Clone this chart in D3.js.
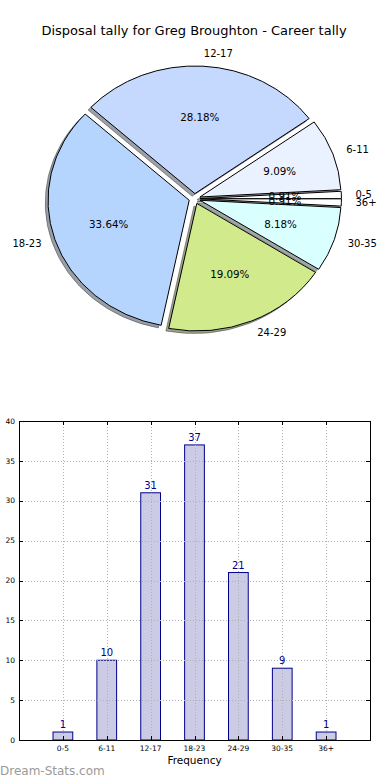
<!DOCTYPE html>
<html><head><meta charset="utf-8">
<script src="https://cdn.jsdelivr.net/npm/d3@7"></script>
<style>html,body{margin:0;padding:0;background:#fff;}svg{display:block;font-family:"DejaVu Sans",sans-serif;}</style>
</head><body>
<script>
const categories = ["0-5","6-11","12-17","18-23","24-29","30-35","36+"];
const counts = [1,10,31,37,21,9,1];
const sliceColors = ["#ffffff","#eaf1ff","#c5d9ff","#b5d5ff","#d0ea8c","#d9ffff","#ffffff"];
const yTicks = [0,5,10,15,20,25,30,35,40];
const title = "Disposal tally for Greg Broughton - Career tally";

const W = 390, H = 780;
const svg = d3.select("body").append("svg").attr("width", W).attr("height", H);

svg.append("text").attr("x", 194).attr("y", 35).attr("text-anchor","middle")
  .attr("font-size", 13).attr("fill","#000").text(title);

// ---------- Pie (elliptical, exploded, shadowed) ----------
const cx = 194.6, cy = 198.7, rx = 141.2, ry = 127.6, explode = 0.04;
const total = d3.sum(counts);
const pie = d3.pie().sort(null).startAngle(Math.PI/2).endAngle(Math.PI/2 - 2*Math.PI);
const arcs = pie(counts);
const arcGen = d3.arc().innerRadius(0).outerRadius(1);

function mid(a){ return (a.startAngle + a.endAngle)/2; }
function off(a, k){ const m = mid(a); return [k*rx*Math.sin(m), -k*ry*Math.cos(m)]; }

const gPie = svg.append("g");
// shadows
arcs.forEach((a,i)=>{
  const o = off(a, explode);
  const c = d3.rgb(sliceColors[i]);
  const sc = d3.rgb(c.r*0.3, c.g*0.3, c.b*0.3);
  gPie.append("path")
    .attr("d", arcGen({startAngle:a.startAngle, endAngle:a.endAngle}))
    .attr("transform", `translate(${cx+o[0]-0.02*rx},${cy+o[1]+0.02*ry}) scale(${rx},${ry})`)
    .attr("fill", sc).attr("fill-opacity",0.5)
    .attr("stroke", sc).attr("stroke-opacity",0.5).attr("stroke-width",1)
    .attr("vector-effect","non-scaling-stroke");
});
arcs.forEach((a,i)=>{
  const o = off(a, explode);
  gPie.append("path")
    .attr("d", arcGen({startAngle:a.startAngle, endAngle:a.endAngle}))
    .attr("transform", `translate(${cx+o[0]},${cy+o[1]}) scale(${rx},${ry})`)
    .attr("fill", sliceColors[i])
    .attr("stroke", "#000").attr("stroke-width",1)
    .attr("vector-effect","non-scaling-stroke");
});
// labels
arcs.forEach((a,i)=>{
  const m = mid(a);
  const sx = Math.sin(m), sy = -Math.cos(m);
  const lx = cx + (explode+1.1)*rx*sx, ly = cy + (explode+1.1)*ry*sy;
  gPie.append("text").attr("x", lx).attr("y", ly).attr("dy","0.35em")
    .attr("text-anchor", sx > 0 ? "start" : "end")
    .attr("font-size", 10).attr("fill","#000").text(categories[i]);
  const px = cx + (explode+0.6)*rx*sx, py = cy + (explode+0.6)*ry*sy;
  gPie.append("text").attr("x", px).attr("y", py).attr("dy","0.35em")
    .attr("text-anchor","middle").attr("font-size", 10.3).attr("fill","#000")
    .text((counts[i]/total*100).toFixed(2) + "%");
});

// ---------- Bar chart ----------
const L = 19, R = 370, T = 421, B = 740;
const x = d3.scaleLinear().domain([-1, 7]).range([L, R]);
const y = d3.scaleLinear().domain([0, 40]).range([B, T]);
const bw = 0.45;
const gBar = svg.append("g");

gBar.selectAll("rect.bar").data(counts).join("rect").attr("class","bar")
  .attr("x", (d,i)=> x(i - bw/2)).attr("width", x(bw) - x(0))
  .attr("y", d=> y(d)).attr("height", d=> y(0) - y(d))
  .attr("fill","#cbcbe5").attr("stroke","#00008b").attr("stroke-width",1);

// grid
const grid = gBar.append("g").attr("stroke","#b0b0b0").attr("stroke-width",1).attr("stroke-dasharray","1,2");
yTicks.forEach(t=>{
  grid.append("line").attr("x1",L).attr("x2",R).attr("y1",Math.round(y(t))+0.5).attr("y2",Math.round(y(t))+0.5);
});
categories.forEach((c,i)=>{
  grid.append("line").attr("y1",T).attr("y2",B).attr("x1",Math.round(x(i))+0.5).attr("x2",Math.round(x(i))+0.5);
});

// frame
gBar.append("rect").attr("x",L+0.5).attr("y",T+0.5).attr("width",R-L).attr("height",B-T)
  .attr("fill","none").attr("stroke","#000").attr("stroke-width",1);

// ticks inward
const tk = gBar.append("g").attr("stroke","#000").attr("stroke-width",1);
yTicks.forEach(t=>{
  const yy = Math.round(y(t))+0.5;
  tk.append("line").attr("x1",L).attr("x2",L+4).attr("y1",yy).attr("y2",yy);
  tk.append("line").attr("x1",R-4).attr("x2",R).attr("y1",yy).attr("y2",yy);
});
categories.forEach((c,i)=>{
  const xx = Math.round(x(i))+0.5;
  tk.append("line").attr("x1",xx).attr("x2",xx).attr("y1",B-4).attr("y2",B);
  tk.append("line").attr("x1",xx).attr("x2",xx).attr("y1",T).attr("y2",T+4);
});

// tick labels
gBar.selectAll("text.yt").data(yTicks).join("text").attr("class","yt")
  .attr("x", L-4).attr("y", d=>y(d)).attr("dy","0.35em").attr("text-anchor","end")
  .attr("font-size",7.5).attr("fill","#000").text(d=>d);
gBar.selectAll("text.xt").data(categories).join("text").attr("class","xt")
  .attr("x",(d,i)=>x(i)).attr("y", B+11).attr("text-anchor","middle")
  .attr("font-size",7.5).attr("fill","#000").text(d=>d);

// value labels
gBar.selectAll("text.val").data(counts).join("text").attr("class","val")
  .attr("x",(d,i)=>x(i)).attr("y", d=>y(d)-4).attr("text-anchor","middle")
  .attr("font-size",10).attr("fill","#00008b").text(d=>d);

svg.append("text").attr("x",(L+R)/2).attr("y",764).attr("text-anchor","middle")
  .attr("font-size",10.5).attr("fill","#000").text("Frequency");

svg.append("text").attr("x",0).attr("y",775).attr("font-size",12)
  .attr("fill","#9a9a9a").text("Dream-Stats.com");
</script>
</body></html>
